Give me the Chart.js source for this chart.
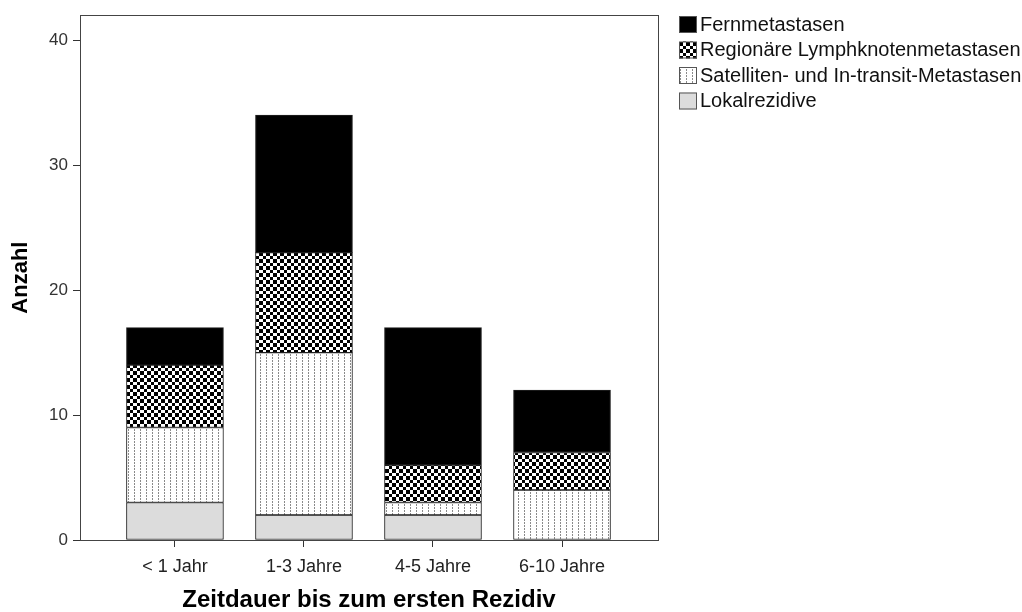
<!DOCTYPE html>
<html>
<head>
<meta charset="utf-8">
<script src="https://cdn.jsdelivr.net/npm/chart.js@4/dist/chart.umd.min.js"></script>
<style>
html,body{margin:0;padding:0;background:#fff;}
#wrap{width:1022px;height:612px;position:relative;}
</style>
</head>
<body>
<div id="wrap"><canvas id="c" width="1022" height="612"></canvas></div>
<script>
const categories = ['< 1 Jahr', '1-3 Jahre', '4-5 Jahre', '6-10 Jahre'];
const lokalrezidive = [3, 2, 2, 0];
const satelliten = [6, 13, 1, 4];
const regionaere = [5, 8, 3, 3];
const fernmetastasen = [3, 11, 11, 5];
const yTicks = [0, 10, 20, 30, 40];
const seriesNames = ['Lokalrezidive', 'Satelliten- und In-transit-Metastasen', 'Regionäre Lymphknotenmetastasen', 'Fernmetastasen'];

const FONT = '"Liberation Sans", Arial, sans-serif';

function makePattern(w, h, draw) {
  const c = document.createElement('canvas');
  c.width = w; c.height = h;
  const g = c.getContext('2d');
  draw(g);
  return g.createPattern(c, 'repeat');
}
const ctx = document.getElementById('c').getContext('2d');
const checker = makePattern(7, 7, g => {
  g.fillStyle = '#fff'; g.fillRect(0, 0, 7, 7);
  g.fillStyle = '#000'; g.fillRect(0, 0, 4, 4); g.fillRect(4, 4, 3, 3);
});
const dotted = makePattern(6, 3, g => {
  g.fillStyle = '#fff'; g.fillRect(0, 0, 6, 3);
  g.fillStyle = '#8a8a8a'; g.fillRect(2, 0, 1, 2);
});

const toXY = arr => arr.map((v, i) => ({ x: i, y: v }));
const fills = ['#dcdcdc', dotted, checker, '#000'];
const seriesData = [lokalrezidive, satelliten, regionaere, fernmetastasen];
const datasets = seriesData.map((d, i) => ({
  label: seriesNames[i],
  data: toXY(d),
  backgroundColor: fills[i],
  borderColor: '#222',
  borderWidth: 1,
  borderSkipped: false,
  barThickness: 97
}));

const framePlugin = {
  id: 'frame',
  afterDatasetsDraw(chart) {
    const a = chart.chartArea, g = chart.ctx;
    g.save();
    g.strokeStyle = '#444'; g.lineWidth = 1;
    g.strokeRect(Math.round(a.left) + 0.5, Math.round(a.top) + 0.5, Math.round(a.right - a.left), Math.round(a.bottom - a.top));
    g.restore();
  },
  afterDraw(chart) {
    const g = chart.ctx;
    g.save();
    g.font = '20px ' + FONT;
    g.textBaseline = 'middle';
    const items = chart.data.datasets.slice().reverse();
    items.forEach((ds, i) => {
      const y = 16 + i * 25.5;
      g.fillStyle = ds.backgroundColor;
      g.fillRect(679, y, 18, 17);
      g.strokeStyle = '#555'; g.lineWidth = 1;
      g.strokeRect(679.5, y + 0.5, 17, 16);
      g.fillStyle = '#111';
      g.fillText(ds.label, 700, y + 9);
    });
    g.restore();
  }
};

new Chart(ctx, {
  type: 'bar',
  data: { datasets },
  options: {
    responsive: false,
    animation: false,
    layout: { padding: { top: 15, right: 364, left: 0, bottom: 0 } },
    plugins: { legend: { display: false }, tooltip: { enabled: false } },
    scales: {
      x: {
        type: 'linear',
        stacked: true,
        min: -0.736,
        max: 3.744,
        offset: false,
        afterBuildTicks: s => { s.ticks = categories.map((c, i) => ({ value: i })); },
        afterFit: s => { s.height = 72; },
        ticks: {
          callback: v => categories[v],
          color: '#222',
          font: { family: FONT, size: 18 },
          padding: 9,
          maxRotation: 0,
          autoSkip: false
        },
        grid: { offset: false, drawOnChartArea: false, drawTicks: true, tickLength: 7, color: '#333' },
        border: { display: true, color: '#444' },
        title: {
          display: true,
          text: 'Zeitdauer bis zum ersten Rezidiv',
          color: '#000',
          font: { family: FONT, size: 24, weight: 'bold' },
          padding: { top: 0, bottom: -3 }
        }
      },
      y: {
        stacked: true,
        min: 0,
        max: 42,
        afterBuildTicks: s => { s.ticks = yTicks.map(v => ({ value: v })); },
        afterFit: s => { s.width = 80; },
        ticks: {
          color: '#333',
          font: { family: FONT, size: 17 },
          padding: 5
        },
        grid: { drawOnChartArea: false, drawTicks: true, tickLength: 7, color: '#333' },
        border: { display: true, color: '#444' },
        title: {
          display: true,
          text: 'Anzahl',
          color: '#000',
          font: { family: FONT, size: 22, weight: 'bold' },
          padding: { top: 8, bottom: 0 }
        }
      }
    }
  },
  plugins: [framePlugin]
});
</script>
</body>
</html>
